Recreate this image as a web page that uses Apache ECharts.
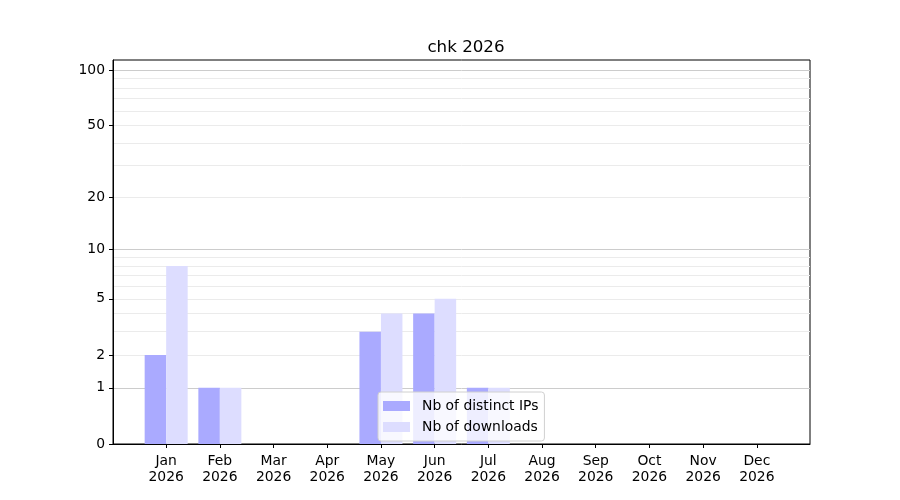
<!DOCTYPE html>
<html lang="en">
<head>
    <meta charset="UTF-8">
    <title>chk 2026</title>
    <script src="https://cdn.jsdelivr.net/npm/echarts@6/dist/echarts.min.js"></script>
    <style>
        html, body { margin: 0; padding: 0; background: #fff; }
    </style>
</head>
<body>
<div id="chart" style="width: 900px;height: 500px;"></div>
<script>
    // data
    var months = ['Jan', 'Feb', 'Mar', 'Apr', 'May', 'Jun', 'Jul', 'Aug', 'Sep', 'Oct', 'Nov', 'Dec'];
    var year = '2026';
    var distinctIPs = [2, 1, 0, 0, 3, 4, 1, 0, 0, 0, 0, 0];
    var downloads = [8, 1, 0, 0, 4, 5, 1, 0, 0, 0, 0, 0];
    var yTickLabels = [0, 1, 2, 5, 10, 20, 50, 100];
    var yMajorGrid = [1, 10, 100];
    var yMinorGrid = [2, 3, 4, 5, 6, 7, 8, 9, 20, 30, 40, 50, 60, 70, 80, 90];

    // log(x+1) scale, like the original
    function tr(v) { return Math.log10(v + 1); }
    function untr(t) { return Math.round(Math.pow(10, t) - 1); }

    var fontFamily = 'DejaVu Sans';
    var months_idx = months.map(function (m, i) { return i; });

    function barData(arr) {
        return arr.map(function (v, i) { return [i, tr(v)]; });
    }

    var yBase = {
        type: 'value',
        min: 0,
        max: 2.058,
        axisLine: { show: false, onZero: false },
        axisLabel: { show: false },
        axisTick: { show: false },
        splitLine: { show: false }
    };

    var myChart = echarts.init(document.getElementById('chart'));
    var option = {
        animation: false,
        title: {
            text: 'chk ' + year,
            left: 461,
            textAlign: 'center',
            top: 34,
            textStyle: { fontFamily: fontFamily, fontSize: 16.7, fontWeight: 'normal', color: '#000' }
        },
        legend: {
            orient: 'vertical',
            left: 378,
            top: 392,
            icon: 'rect',
            itemWidth: 27,
            itemHeight: 10,
            itemGap: 5,
            padding: [6, 6, 6, 5],
            backgroundColor: 'rgba(255,255,255,0.8)',
            borderColor: '#d0d0d0',
            borderWidth: 1,
            borderRadius: 3,
            textStyle: { fontFamily: fontFamily, fontSize: 13.9, color: '#000', lineHeight: 16, padding: [0, 0, 0, 7] },
            data: ['Nb of distinct IPs', 'Nb of downloads']
        },
        grid: {
            left: 113,
            right: 90,
            top: 60,
            bottom: 56,
            show: true,
            borderColor: '#000',
            borderWidth: 1,
            containLabel: false
        },
        xAxis: {
            type: 'value',
            min: -0.99,
            max: 11.99,
            axisLine: { show: true, onZero: false, lineStyle: { color: '#000' } },
            axisTick: { show: true, length: 4, lineStyle: { color: '#000' }, customValues: months_idx },
            axisLabel: {
                customValues: months_idx,
                fontFamily: fontFamily,
                fontSize: 13.9,
                color: '#000',
                lineHeight: 16.5,
                margin: 9,
                formatter: function (v) { return months[Math.round(v)] + '\n' + year; }
            },
            splitLine: { show: false }
        },
        yAxis: [
            {
                type: 'value',
                min: 0,
                max: 2.058,
                axisLine: { show: true, onZero: false, lineStyle: { color: '#000' } },
                axisTick: { show: true, length: 4, lineStyle: { color: '#000' }, customValues: yTickLabels.map(tr) },
                axisLabel: {
                    customValues: yTickLabels.map(tr),
                    fontFamily: fontFamily,
                    fontSize: 13.9,
                    color: '#000',
                    margin: 8,
                    padding: [3, 0, 0, 0],
                    formatter: function (v) { return String(untr(v)); }
                },
                splitLine: { show: false }
            },
            Object.assign({}, yBase, {
                axisTick: { show: false, customValues: yMajorGrid.map(tr) },
                splitLine: { show: true, lineStyle: { color: '#cccccc', width: 1 } }
            }),
            Object.assign({}, yBase, {
                axisTick: { show: false, customValues: yMinorGrid.map(tr) },
                splitLine: { show: true, lineStyle: { color: '#ebebeb', width: 1 } }
            })
        ],
        series: [
            {
                name: 'Nb of distinct IPs',
                type: 'bar',
                yAxisIndex: 0,
                barWidth: 21.5,
                barGap: '0%',
                itemStyle: { color: '#aaaaff' },
                data: barData(distinctIPs)
            },
            {
                name: 'Nb of downloads',
                type: 'bar',
                yAxisIndex: 0,
                barWidth: 21.5,
                barGap: '0%',
                itemStyle: { color: '#ddddff' },
                data: barData(downloads)
            }
        ]
    };
    myChart.setOption(option);
</script>
</body>
</html>
